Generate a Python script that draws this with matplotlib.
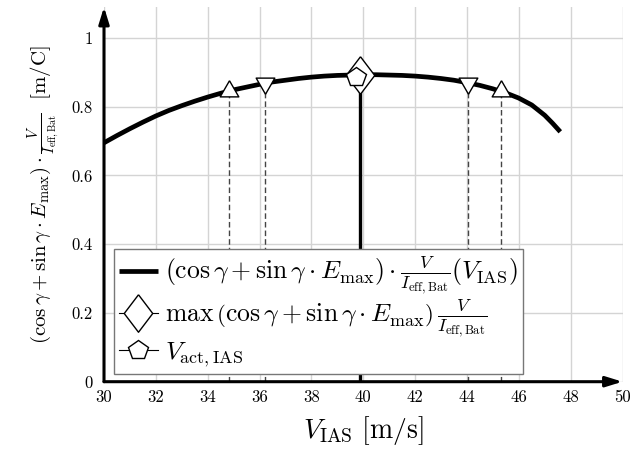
import matplotlib
matplotlib.use("Agg")
import matplotlib.pyplot as plt
import numpy as np

plt.rcParams['mathtext.fontset'] = 'cm'
plt.rcParams['font.family'] = 'serif'
plt.rcParams['font.serif'] = ['cmr10', 'DejaVu Serif']
plt.rcParams['axes.unicode_minus'] = False
plt.rcParams['axes.formatter.use_mathtext'] = True

# ---- data ----
v_ias = [30, 30.5, 31, 31.5, 32, 32.5, 33, 33.5, 34, 34.5, 35, 35.5, 36, 36.5, 37, 37.5,
         38, 38.5, 39, 39.5, 40, 40.5, 41, 41.5, 42, 42.5, 43, 43.5, 44, 44.5, 45, 45.5,
         46, 46.5, 47, 47.3, 47.6]
eff = [0.695, 0.716, 0.736, 0.755, 0.773, 0.789, 0.803, 0.816, 0.828, 0.839, 0.849, 0.857,
       0.865, 0.872, 0.877, 0.882, 0.886, 0.889, 0.891, 0.892, 0.893, 0.893, 0.892, 0.891,
       0.889, 0.886, 0.882, 0.877, 0.870, 0.862, 0.852, 0.840, 0.825, 0.805, 0.775, 0.752,
       0.727]
up_x = [34.83, 45.33]
up_y = [0.847, 0.847]
down_x = [36.2, 44.04]
down_y = [0.868, 0.868]
max_x = [39.88]
max_y = [0.893]
act_x = [39.72]
act_y = [0.886]
xticks = [30, 32, 34, 36, 38, 40, 42, 44, 46, 48, 50]
yticks = [0, 0.2, 0.4, 0.6, 0.8, 1]
ytick_labels = ['0', '0.2', '0.4', '0.6', '0.8', '1']

fig = plt.figure(figsize=(6.42, 4.58), dpi=100)
ax = fig.add_axes([104/642, 1-381.7/458, 518.5/642, 374.7/458])
ax.set_xlim(30, 50)
ax.set_ylim(0, 1.09)

ax.set_xticks(xticks)
ax.set_xticklabels([str(t) for t in xticks])
ax.set_yticks(yticks)
ax.set_yticklabels(ytick_labels)
ax.tick_params(length=0, labelsize=12, pad=6)
ax.tick_params(axis='y', pad=8)
ax.grid(True, color='#d4d4d4', lw=1.0, zorder=0)
ax.set_axisbelow(True)
for s in ax.spines.values():
    s.set_visible(False)

# axes arrows
arr = dict(arrowstyle='-|>,head_length=0.55,head_width=0.17', lw=2.2, color='k',
           mutation_scale=18, shrinkA=0, shrinkB=0)
ax.annotate('', xy=(1, 0), xytext=(0, 0), xycoords='axes fraction', arrowprops=arr,
            annotation_clip=False, zorder=6)
ax.annotate('', xy=(0, 1), xytext=(0, 0), xycoords='axes fraction', arrowprops=arr,
            annotation_clip=False, zorder=6)

# dashed verticals
for xv, yv in zip(up_x + down_x, up_y + down_y):
    ax.plot([xv, xv], [0, yv], color='#444444', lw=1.0, dashes=(4, 2.2), zorder=2)
# thick vertical at maximum
ax.plot([max_x[0], max_x[0]], [0, max_y[0]], color='k', lw=2.4, zorder=3)

# main curve
ax.plot(v_ias, eff, color='k', lw=3.4, solid_capstyle='butt', solid_joinstyle='round',
        zorder=4,
        label=r'$(\cos\gamma+\sin\gamma\cdot E_{\max})\cdot\frac{V}{I_{\mathrm{eff,Bat}}}(V_{\mathrm{IAS}})$')

tri_up = [(0, 1), (-0.866, -0.5), (0.866, -0.5), (0, 1)]
tri_dn = [(0, -1), (-0.866, 0.5), (0.866, 0.5), (0, -1)]
diamond = [(0, 1), (0.76, 0), (0, -1), (-0.76, 0), (0, 1)]

ax.plot(up_x, up_y, linestyle='none', marker=tri_up, markersize=15.5,
        mfc='white', mec='k', mew=1.0, zorder=5)
ax.plot(down_x, down_y, linestyle='none', marker=tri_dn, markersize=15.5,
        mfc='white', mec='k', mew=1.0, zorder=5)
ax.plot(max_x, max_y, linestyle='-', lw=0.8, color='k', marker=diamond, markersize=27,
        mfc='white', mec='k', mew=1.0, zorder=6,
        label=r'$\max\,\left(\cos\gamma+\sin\gamma\cdot E_{\max}\right)\,\frac{V}{I_{\mathrm{eff,Bat}}}$')
ax.plot(act_x, act_y, linestyle='-', lw=0.8, color='k', marker='p', markersize=15,
        mfc='white', mec='k', mew=1.0, zorder=7,
        label=r'$V_{\mathrm{act,IAS}}$')

leg = ax.legend(loc='lower left', bbox_to_anchor=(0.0193, 0.021), borderaxespad=0,
                fontsize=18.5, handlelength=1.5, handletextpad=0.3, numpoints=1,
                fancybox=False, framealpha=1, edgecolor='#777777', borderpad=0.2,
                labelspacing=0.0)
leg.get_frame().set_linewidth(1.0)
leg.set_zorder(8)

ax.set_xlabel(r'$V_{\mathrm{IAS}}\ [\mathrm{m/s}]$', fontsize=20, labelpad=6)
ax.set_ylabel(r'$(\cos\gamma+\sin\gamma\cdot E_{\max})\cdot\frac{V}{I_{\mathrm{eff,Bat}}}\ \ [\mathrm{m/C}]$',
              fontsize=15, labelpad=6)

fig.savefig('out.png', dpi=100)
